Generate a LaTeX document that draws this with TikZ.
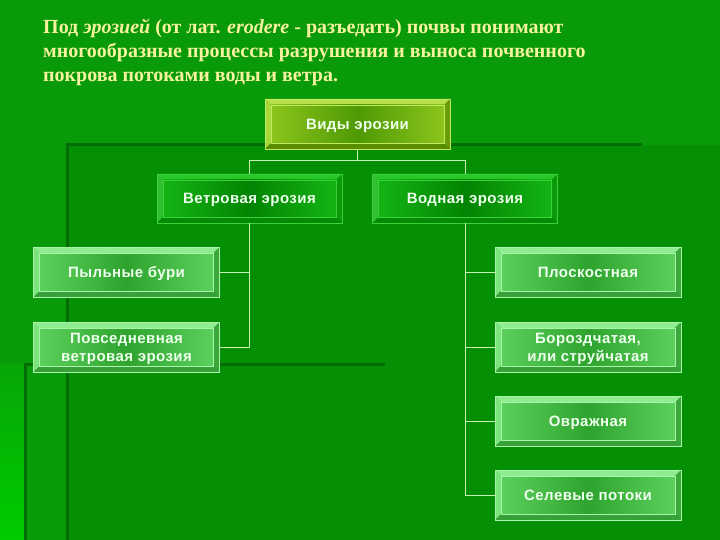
\documentclass[tikz,border=0pt]{standalone}
\usepackage{fontspec}
\setmainfont{Liberation Sans}
\newfontfamily\titlefont{Liberation Serif}
\newfontfamily\boxfont[LetterSpace=3]{Liberation Sans}
\definecolor{bgmain}{HTML}{089A08}
\definecolor{bginner}{HTML}{048F04}
\definecolor{bgline}{HTML}{046C04}
\definecolor{bgleftA}{HTML}{06A606}
\definecolor{bgleftB}{HTML}{00CC00}
\definecolor{titlecol}{HTML}{F6F2A0}
\definecolor{txtcol}{HTML}{EEFFEE}
\definecolor{conncol}{HTML}{C8F0B0}
% level 1
\definecolor{aT}{HTML}{B8E048}\definecolor{aL}{HTML}{A8D838}\definecolor{aR}{HTML}{6A9C08}
\definecolor{aB}{HTML}{5A8C00}\definecolor{aE}{HTML}{8CC41C}\definecolor{aM}{HTML}{4E9A04}\definecolor{aO}{HTML}{C0E860}
% level 2
\definecolor{bT}{HTML}{28C828}\definecolor{bL}{HTML}{30C030}\definecolor{bR}{HTML}{0A9A0A}
\definecolor{bB}{HTML}{058A05}\definecolor{bE}{HTML}{14B414}\definecolor{bM}{HTML}{028402}\definecolor{bO}{HTML}{3CD03C}
% level 3
\definecolor{cT}{HTML}{90EC90}\definecolor{cL}{HTML}{7CE47C}\definecolor{cR}{HTML}{3AA83A}
\definecolor{cB}{HTML}{38A038}\definecolor{cE}{HTML}{5CD05C}\definecolor{cM}{HTML}{2EA42E}\definecolor{cO}{HTML}{A8F4A8}
\tikzset{
  bevelbox/.style n args={7}{rectangle, draw=#7, line width=0.7pt, text=txtcol,
    font=\boxfont\bfseries\fontsize{15}{18}\selectfont, align=center, inner sep=0pt, text depth=0pt,
    path picture={
      \fill[#1] (path picture bounding box.north west) -- (path picture bounding box.north east)
        -- ([shift={(-6pt,-6pt)}]path picture bounding box.north east)
        -- ([shift={(6pt,-6pt)}]path picture bounding box.north west) -- cycle;
      \fill[#2] (path picture bounding box.north west) -- ([shift={(6pt,-6pt)}]path picture bounding box.north west)
        -- ([shift={(6pt,6pt)}]path picture bounding box.south west)
        -- (path picture bounding box.south west) -- cycle;
      \fill[#3] (path picture bounding box.north east) -- (path picture bounding box.south east)
        -- ([shift={(-6pt,6pt)}]path picture bounding box.south east)
        -- ([shift={(-6pt,-6pt)}]path picture bounding box.north east) -- cycle;
      \fill[#4] (path picture bounding box.south west) -- (path picture bounding box.south east)
        -- ([shift={(-6pt,6pt)}]path picture bounding box.south east)
        -- ([shift={(6pt,6pt)}]path picture bounding box.south west) -- cycle;
      \shade[left color=#5, right color=#5, middle color=#6]
        ([shift={(6pt,-6pt)}]path picture bounding box.north west)
        rectangle ([shift={(-6pt,6pt)}]path picture bounding box.south east);
      \draw[#7, line width=0.4pt]
        ([shift={(6pt,-6pt)}]path picture bounding box.north west)
        rectangle ([shift={(-6pt,6pt)}]path picture bounding box.south east);
    }},
  lvlone/.style={bevelbox={aT}{aL}{aR}{aB}{aE}{aM}{aO}, minimum width=185pt, minimum height=50pt},
  lvltwo/.style={bevelbox={bT}{bL}{bR}{bB}{bE}{bM}{bO}, minimum width=185pt, minimum height=49pt},
  lvlthree/.style={bevelbox={cT}{cL}{cR}{cB}{cE}{cM}{cO}, minimum width=186pt, minimum height=50pt},
  conn/.style={draw=conncol, line width=1pt},
}
\begin{document}
\begin{tikzpicture}[x=1pt,y=-1pt]
\useasboundingbox (0,0) rectangle (720,540);
% background
\fill[bgmain] (0,0) rectangle (720,540);
\fill[bginner] (67,145) rectangle (720,540);
\shade[top color=bgleftA, bottom color=bgleftB] (0,364) rectangle (25,540);
\fill[bgline] (67,143.5) rectangle (642,146.5);
\fill[bgline] (65.5,143.5) rectangle (68.5,540);
\fill[bgline] (25,363) rectangle (385,366);
\fill[bgline] (23.5,363) rectangle (26.5,540);
% title
\node[anchor=north west, align=left, text=titlecol, inner sep=0pt,
      font=\titlefont\bfseries\fontsize{20}{24}\selectfont] (title) at (43,19)
  {Под \textit{эрозией} (от лат. \textit{erodere} - разъедать) почвы понимают\\
   многообразные процессы разрушения и выноса почвенного\\
   покрова потоками воды и ветра.};
% boxes
\node[lvlone] (vid) at (357.5,124) {Виды эрозии};
\node[lvltwo] (vet) at (249.5,198.5) {Ветровая эрозия};
\node[lvltwo] (vod) at (465,198.5) {Водная эрозия};
\node[lvlthree] (pyl) at (126.5,272) {Пыльные бури};
\node[lvlthree] (pov) at (126.5,347) {Повседневная\\ветровая эрозия};
\node[lvlthree] (plo) at (588,272) {Плоскостная};
\node[lvlthree] (bor) at (588,347) {Бороздчатая,\\или струйчатая};
\node[lvlthree] (ovr) at (588,421.5) {Овражная};
\node[lvlthree] (sel) at (588,495) {Селевые потоки};
% connectors
\coordinate (hb) at (357.5,161);
\draw[conn] (vid.south) -- (hb);
\draw[conn] (hb) -| (vet.north);
\draw[conn] (hb) -| (vod.north);
\draw[conn] (vet.south) |- (pyl.east);
\draw[conn] (vet.south) |- (pov.east);
\draw[conn] (vod.south) |- (plo.west);
\draw[conn] (vod.south) |- (bor.west);
\draw[conn] (vod.south) |- (ovr.west);
\draw[conn] (vod.south) |- (sel.west);
\end{tikzpicture}
\end{document}
